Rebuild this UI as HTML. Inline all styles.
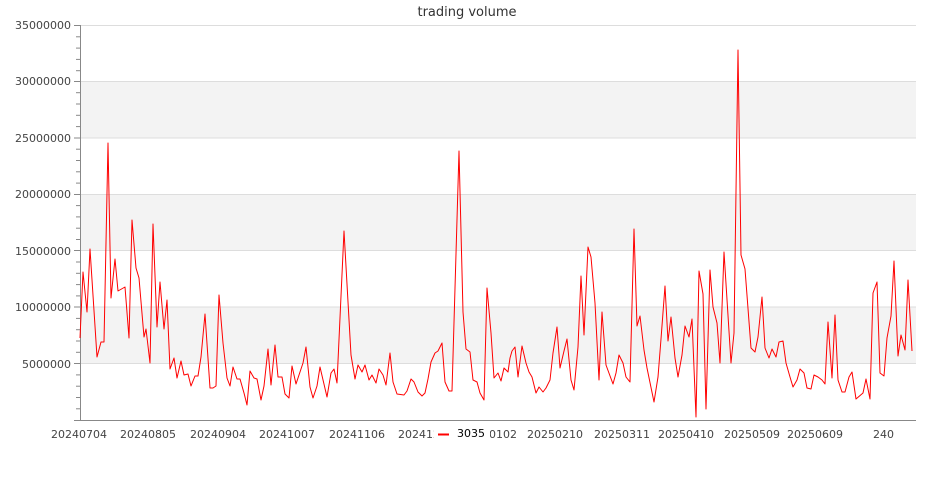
<!DOCTYPE html>
<html><head><meta charset="utf-8"><style>
html,body{margin:0;padding:0;background:#fff;}
svg{display:block;font-family:"DejaVu Sans","Liberation Sans",sans-serif;}
</style></head><body>
<svg width="935" height="500" viewBox="0 0 935 500" xmlns="http://www.w3.org/2000/svg">
<text x="467" y="16" text-anchor="middle" font-size="13" fill="#333">trading volume</text>
<rect x="80" y="81.4" width="836" height="56.5" fill="#f3f3f3"/>
<rect x="80" y="194.3" width="836" height="56.4" fill="#f3f3f3"/>
<rect x="80" y="307.1" width="836" height="56.5" fill="#f3f3f3"/>
<g stroke="#ddd" stroke-width="1">
<line x1="80" x2="916" y1="25.5" y2="25.5"/>
<line x1="80" x2="916" y1="81.5" y2="81.5"/>
<line x1="80" x2="916" y1="138" y2="138"/>
<line x1="80" x2="916" y1="194.5" y2="194.5"/>
<line x1="80" x2="916" y1="250.5" y2="250.5"/>
<line x1="80" x2="916" y1="307" y2="307"/>
<line x1="80" x2="916" y1="363.5" y2="363.5"/>
</g>
<g stroke="#888" stroke-width="1">
<line x1="80.5" x2="80.5" y1="25" y2="420"/>
<line x1="80" x2="916" y1="420.5" y2="420.5"/>
<line x1="74" x2="80" y1="25.5" y2="25.5"/>
<line x1="74" x2="80" y1="81.5" y2="81.5"/>
<line x1="74" x2="80" y1="138" y2="138"/>
<line x1="74" x2="80" y1="194.5" y2="194.5"/>
<line x1="74" x2="80" y1="250.5" y2="250.5"/>
<line x1="74" x2="80" y1="307" y2="307"/>
<line x1="74" x2="80" y1="363.5" y2="363.5"/>
<line x1="74" x2="80" y1="420.5" y2="420.5"/>
</g>
<g font-size="11" fill="#444" text-anchor="end">
<text x="71" y="29">35000000</text>
<text x="71" y="85">30000000</text>
<text x="71" y="142">25000000</text>
<text x="71" y="198">20000000</text>
<text x="71" y="255">15000000</text>
<text x="71" y="311">10000000</text>
<text x="71" y="368">5000000</text>
</g>
<g font-size="11" fill="#444" text-anchor="middle">
<text x="79" y="438">20240704</text>
<text x="148" y="438">20240805</text>
<text x="218" y="438">20240904</text>
<text x="287" y="438">20241007</text>
<text x="357" y="438">20241106</text>
<text x="426" y="438">20241204</text>
<text x="489" y="438">20250102</text>
<text x="555" y="438">20250210</text>
<text x="622" y="438">20250311</text>
<text x="686" y="438">20250410</text>
<text x="752" y="438">20250509</text>
<text x="815" y="438">20250609</text>
<text x="873" y="438" text-anchor="start">240</text>
</g>
<rect x="434" y="424" width="56" height="20" fill="#fff"/>
<line x1="438" x2="449" y1="434.5" y2="434.5" stroke="#f00" stroke-width="2"/>
<text x="457" y="437" font-size="11" fill="#000">3035</text>
<polyline fill="none" stroke="#f00" stroke-width="1" stroke-linejoin="round" points="80,338 83,272 87,312 90,249 97,357 101,342 104,342 108,143 111,298 115,259 118,291 125,287 129,338 132,220 136,268 139,278 144,337 146,329 150,363 153,224 157,327 160,282 164,329 167,300 170,369 174,358 177,378 181,361 184,375 188,374 191,386 195,376 198,376 201,357 205,314 210,388 213,388 216,386 219,295 223,343 227,378 230,386 233,367 237,379 240,379 244,393 247,405 250,371 254,378 257,379 261,400 264,386 268,349 271,385 275,345 278,377 282,377 285,394 289,398 292,366 296,384 303,363 306,347 310,387 313,398 317,386 320,367 327,397 331,373 334,369 337,383 344,231 351,355 355,379 358,365 362,372 365,365 369,380 372,375 376,383 379,369 383,375 386,385 390,353 393,382 397,394 404,395 407,391 411,379 414,382 418,392 422,396 425,393 428,379 431,362 435,353 438,351 442,343 445,382 449,391 452,391 459,151 463,312 466,349 470,352 473,380 477,382 480,393 484,400 487,288 491,333 494,378 498,373 501,381 504,368 508,372 510,358 512,351 515,347 518,377 522,346 526,363 529,372 532,377 536,393 539,387 543,392 546,388 550,380 553,353 557,327 560,368 564,351 567,339 571,380 574,390 578,347 581,276 584,335 588,247 591,257 595,303 599,380 602,312 606,365 613,384 616,373 619,355 623,363 626,377 630,382 634,229 637,326 640,316 644,350 647,368 654,402 658,377 661,339 665,286 668,341 671,317 675,358 678,377 682,355 685,326 689,337 692,319 696,417 699,271 703,294 706,409 710,270 713,307 717,323 720,363 724,252 731,363 734,333 738,50 741,255 745,269 751,348 755,352 758,337 762,297 765,348 769,358 772,349 776,357 779,342 783,341 786,363 790,377 793,387 797,380 800,369 804,373 807,388 811,389 814,375 818,377 822,380 825,384 828,322 832,378 835,315 838,380 842,392 845,392 849,377 852,372 856,399 863,393 866,379 870,399 873,293 877,282 880,373 884,376 887,338 891,316 894,261 898,356 901,335 905,350 908,280 912,351"/>
<g stroke="#888" stroke-width="1">
<line x1="76" x2="80" y1="36.8" y2="36.8"/><line x1="76" x2="80" y1="48.1" y2="48.1"/><line x1="76" x2="80" y1="59.4" y2="59.4"/><line x1="76" x2="80" y1="70.7" y2="70.7"/>
<line x1="76" x2="80" y1="92.7" y2="92.7"/><line x1="76" x2="80" y1="104" y2="104"/><line x1="76" x2="80" y1="115.3" y2="115.3"/><line x1="76" x2="80" y1="126.6" y2="126.6"/>
<line x1="76" x2="80" y1="149.2" y2="149.2"/><line x1="76" x2="80" y1="160.5" y2="160.5"/><line x1="76" x2="80" y1="171.8" y2="171.8"/><line x1="76" x2="80" y1="183.1" y2="183.1"/>
<line x1="76" x2="80" y1="205.6" y2="205.6"/><line x1="76" x2="80" y1="216.9" y2="216.9"/><line x1="76" x2="80" y1="228.2" y2="228.2"/><line x1="76" x2="80" y1="239.5" y2="239.5"/>
<line x1="76" x2="80" y1="262" y2="262"/><line x1="76" x2="80" y1="273.3" y2="273.3"/><line x1="76" x2="80" y1="284.6" y2="284.6"/><line x1="76" x2="80" y1="295.9" y2="295.9"/>
<line x1="76" x2="80" y1="318.4" y2="318.4"/><line x1="76" x2="80" y1="329.7" y2="329.7"/><line x1="76" x2="80" y1="341" y2="341"/><line x1="76" x2="80" y1="352.3" y2="352.3"/>
<line x1="76" x2="80" y1="374.9" y2="374.9"/><line x1="76" x2="80" y1="386.2" y2="386.2"/><line x1="76" x2="80" y1="397.5" y2="397.5"/><line x1="76" x2="80" y1="408.8" y2="408.8"/>
</g>
</svg>
</body></html>
